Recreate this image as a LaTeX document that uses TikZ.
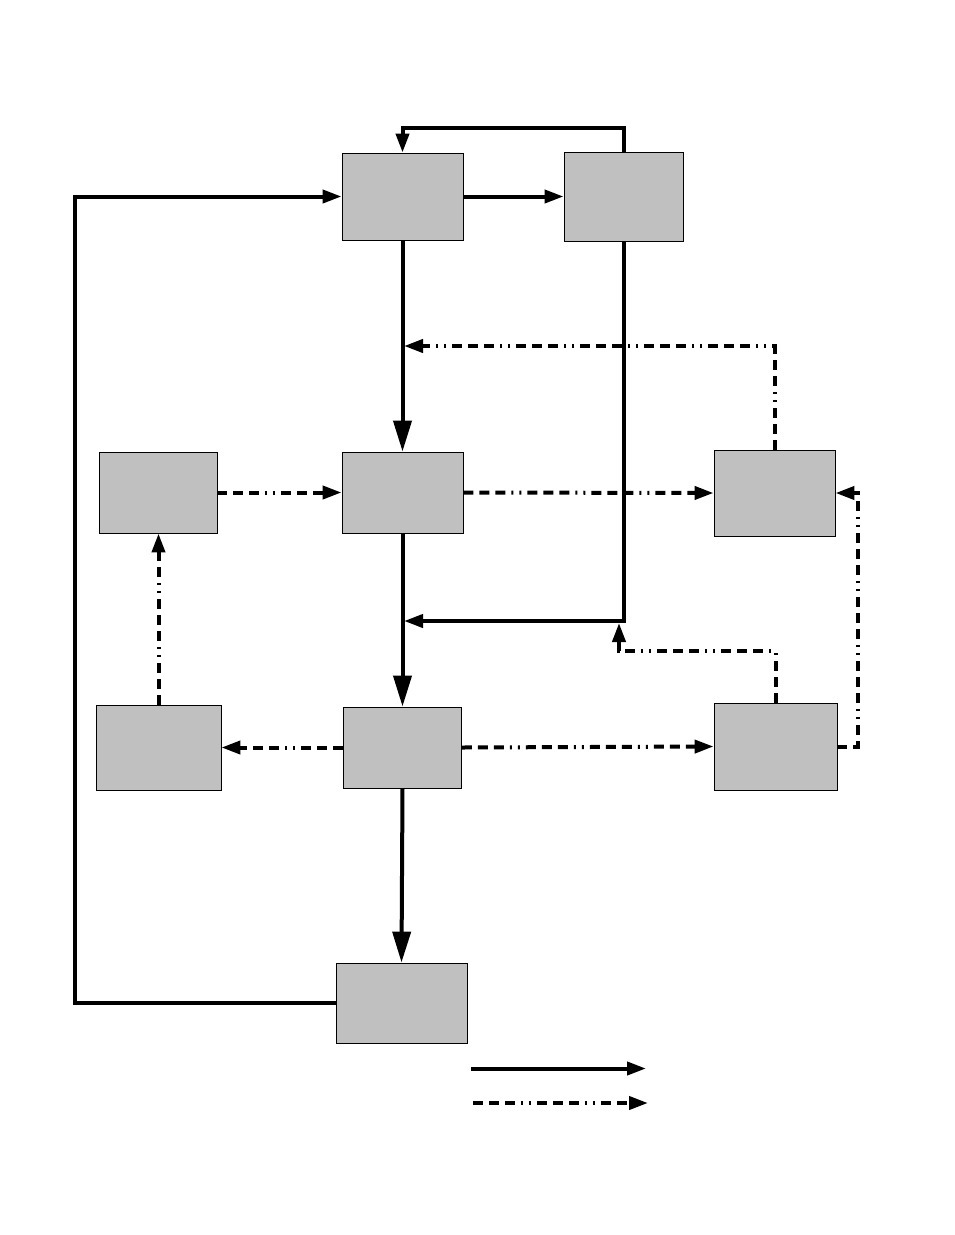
\documentclass[tikz,border=0pt]{standalone}
\usetikzlibrary{arrows.meta,calc}
\begin{document}
\begin{tikzpicture}[x=1pt,y=-1pt,
  box/.style={draw=black,line width=0.9pt,fill={rgb,255:red,192;green,192;blue,192},inner sep=0pt,rectangle},
  solidline/.style={line width=4pt,line join=miter,-{Triangle[length=19pt,width=13pt]}},
  bigsolid/.style={line width=4pt,-{Triangle[length=31pt,width=18pt]}},
  dashdot/.style={line width=4pt,dash pattern=on 10pt off 6pt on 10pt off 6pt on 10pt off 6pt on 2pt off 6pt on 2pt off 6pt,-{Triangle[length=19pt,width=13pt]}},
  plainline/.style={line width=4pt}
]
\useasboundingbox (0,0) rectangle (954,1235);
% boxes
\node[box,minimum width=121pt,minimum height=87pt] (A) at (402.5,196.5) {};
\node[box,minimum width=119pt,minimum height=89pt] (B) at (623.5,196.5) {};
\node[box,minimum width=118pt,minimum height=81pt] (C) at (158,492.5) {};
\node[box,minimum width=121pt,minimum height=81pt] (D) at (402.5,492.5) {};
\node[box,minimum width=121pt,minimum height=86pt] (E) at (774.5,493) {};
\node[box,minimum width=125pt,minimum height=85pt] (F) at (158.5,747.5) {};
\node[box,minimum width=118pt,minimum height=81pt] (G) at (402.5,747.5) {};
\node[box,minimum width=123pt,minimum height=87pt] (H) at (775.5,746.5) {};
\node[box,minimum width=131pt,minimum height=80pt] (I) at (401.5,1003) {};
% junction coordinates
\coordinate (j1) at (404,346);
\coordinate (j2) at (404,621);
\coordinate (j3) at (619,623);
% solid connectors
\draw[solidline] (B.north) -- (B.north |- 0,128) -- (A.north |- 0,128) -- (A.north);
\draw[solidline] (A.east) -- (B.west |- A.east);
\draw[solidline] (I.west) -- (75,1003) -- (75,196.5) -- (A.west);
\draw[bigsolid] (A.south) -- (D.north);
\draw[bigsolid] (D.south) -- (G.north);
\draw[bigsolid] (G.south) -- (I.north);
\draw[solidline] (B.south) -- (B.south |- j2) -- (j2);
% dash-dot connectors
\draw[dashdot] (E.north) -- (E.north |- j1) -- (j1);
\draw[dashdot] (C.east) -- (D.west);
\draw[dashdot] (D.east) -- (E.west);
\draw[dashdot] (H.north) -- (H.north |- 0,651) -- (j3 |- 0,651) -- (j3);
\draw[dashdot] (H.east) -- (858,746.5) -- (858,493) -- (E.east);
\draw[dashdot] (G.west) -- (F.east);
\draw[dashdot] (G.east) -- (H.west);
\draw[dashdot] (F.north) -- (F.north |- C.south);
% legend
\coordinate (l1s) at (471,1068.5);
\coordinate (l1e) at (646,1068.5);
\coordinate (l2s) at (473,1103);
\coordinate (l2e) at (648,1103);
\draw[solidline] (l1s) -- (l1e);
\draw[dashdot] (l2s) -- (l2e);
\end{tikzpicture}
\end{document}
